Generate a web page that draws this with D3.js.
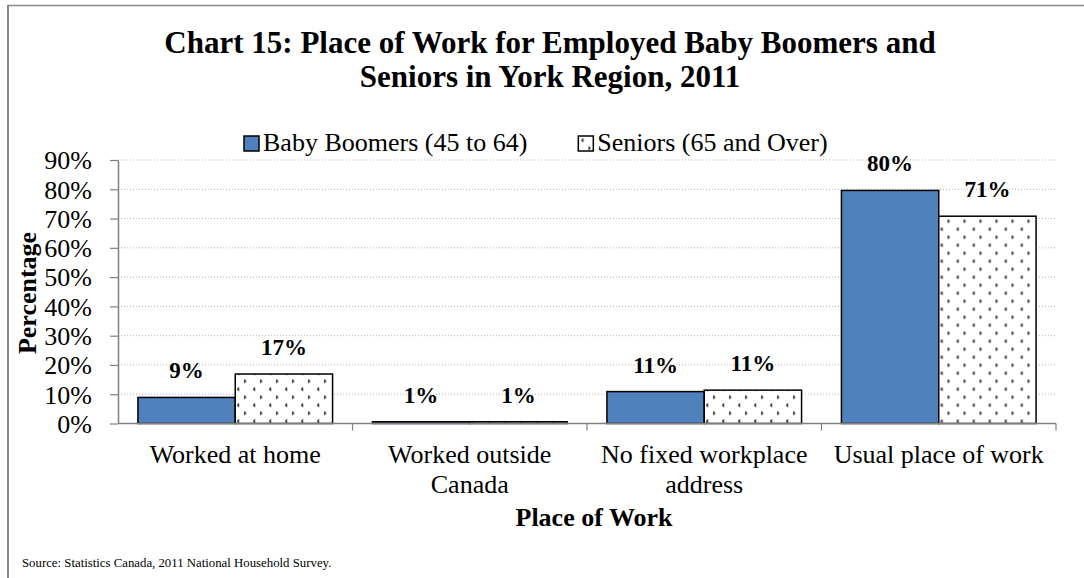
<!DOCTYPE html>
<html>
<head>
<meta charset="utf-8">
<script src="https://cdn.jsdelivr.net/npm/d3@7"></script>
<style>
  html, body { margin: 0; padding: 0; background: #fff; }
  svg { display: block; font-family: "Liberation Serif", "DejaVu Serif", serif; }
  svg text { font-family: "Liberation Serif", "DejaVu Serif", serif; }
</style>
</head>
<body>
<svg id="chart" width="1084" height="578"></svg>
<script>
// ---- data ----
const titleLines = ["Chart 15: Place of Work for Employed Baby Boomers and", "Seniors in York Region, 2011"];
const categories = ["Worked at home", "Worked outside Canada", "No fixed workplace address", "Usual place of work"];
const seriesNames = ["Baby Boomers (45 to 64)", "Seniors (65 and Over)"];
const boomers = [8.9, 0.6, 10.9, 79.6];
const seniors = [16.9, 0.6, 11.4, 70.8];
const yTicks = [0, 10, 20, 30, 40, 50, 60, 70, 80, 90];
const xTitle = "Place of Work";
const yTitle = "Percentage";
const sourceText = "Source: Statistics Canada, 2011 National Household Survey.";

const seriesValues = [boomers, seniors];

// ---- setup ----
const W = 1084, H = 578;
const svg = d3.select("#chart");
const m = { left: 118, right: 1056, top: 160, bottom: 423.5 };

// pattern for seniors
const defs = svg.append("defs");
const pat = defs.append("pattern")
  .attr("id", "dots").attr("patternUnits", "userSpaceOnUse")
  .attr("x", 0).attr("y", 0.5)
  .attr("width", 16).attr("height", 16);
pat.append("rect").attr("width", 16).attr("height", 16).attr("fill", "#fff");
// "<" mark
[[1,0],[0,1],[1,2]].forEach(p => pat.append("rect").attr("x", 3 + p[0]).attr("y", 3 + p[1]).attr("width", 1.3).attr("height", 1.3).attr("fill", "#000"));
// ">" mark
[[0,0],[1,1],[0,2]].forEach(p => pat.append("rect").attr("x", 10 + p[0]).attr("y", 11 + p[1]).attr("width", 1.3).attr("height", 1.3).attr("fill", "#000"));

const fills = ["#4F81BD", "url(#dots)"];

// border (top and left)
svg.append("line").attr("x1", 8).attr("x2", W).attr("y1", 5.5).attr("y2", 5.5).attr("stroke", "#888").attr("stroke-width", 1.5);
svg.append("line").attr("x1", 8).attr("x2", 8).attr("y1", 5).attr("y2", H).attr("stroke", "#888").attr("stroke-width", 2);

// title
svg.append("g").selectAll("text").data(titleLines).join("text")
  .attr("x", 550).attr("y", (d, i) => 53 + i * 34)
  .attr("text-anchor", "middle").attr("font-weight", "bold").attr("font-size", 31)
  .attr("fill", "#000").text(d => d);

// scales
const y = d3.scaleLinear().domain([0, 90]).range([m.bottom, m.top]);
const x0 = d3.scaleBand().domain(categories).range([m.left, m.right]).paddingInner(0.17).paddingOuter(0.085);
const x1 = d3.scaleBand().domain(seriesNames).range([0, x0.bandwidth()]);

// gridlines
svg.append("g").selectAll("line").data(yTicks.filter(t => t > 0)).join("line")
  .attr("x1", m.left).attr("x2", m.right)
  .attr("y1", d => y(d)).attr("y2", d => y(d))
  .attr("stroke", "#b3b3b3").attr("stroke-width", 1).attr("stroke-dasharray", "1,2");

// y axis
const yAxis = svg.append("g").attr("transform", `translate(${m.left},0)`)
  .call(d3.axisLeft(y).tickValues(yTicks).tickFormat(d => d + "%").tickSizeInner(8).tickSizeOuter(0).tickPadding(18));
yAxis.attr("font-family", null);
yAxis.select(".domain").attr("stroke", "#808080").attr("stroke-width", 1.5);
yAxis.selectAll(".tick line").attr("stroke", "#808080").attr("stroke-width", 1.2);
yAxis.selectAll(".tick text").attr("font-size", 26).attr("fill", "#000").attr("dy", "0.34em");

// bars
const groups = svg.append("g").selectAll("g").data(categories).join("g")
  .attr("transform", d => `translate(${x0(d)},0)`);
groups.selectAll("rect").data((c, ci) => seriesNames.map((s, si) => ({ s, si, v: seriesValues[si][ci] })))
  .join("rect")
  .attr("x", d => x1(d.s)).attr("width", x1.bandwidth())
  .attr("y", d => y(d.v)).attr("height", d => y(0) - y(d.v))
  .attr("fill", d => fills[d.si]).attr("stroke", "#000").attr("stroke-width", 1.5);

// value labels
groups.selectAll("text.val").data((c, ci) => seriesNames.map((s, si) => ({ s, si, v: seriesValues[si][ci] })))
  .join("text").attr("class", "val")
  .attr("x", d => x1(d.s) + x1.bandwidth() / 2).attr("y", d => y(d.v) - 19)
  .attr("text-anchor", "middle").attr("font-weight", "bold").attr("font-size", 23)
  .text(d => d3.format(".0f")(d.v) + "%");

// x axis
const xAxisG = svg.append("g");
xAxisG.append("line").attr("x1", m.left).attr("x2", m.right).attr("y1", y(0)).attr("y2", y(0))
  .attr("stroke", "#808080").attr("stroke-width", 1.5);
const bounds = categories.map(c => x0(c) - x0.step() * x0.paddingInner() / 2).concat([m.right]);
xAxisG.selectAll("line.tk").data(bounds.slice(1)).join("line").attr("class", "tk")
  .attr("x1", d => d).attr("x2", d => d).attr("y1", y(0)).attr("y2", y(0) + 7)
  .attr("stroke", "#808080").attr("stroke-width", 1.2);

// category labels with wrapping
function wrapLines(text, width, size) {
  const tmp = svg.append("text").attr("font-size", size);
  const words = text.split(" ");
  const lines = [];
  let cur = [];
  words.forEach(w => {
    const test = cur.concat([w]).join(" ");
    tmp.text(test);
    if (tmp.node().getComputedTextLength() > width && cur.length) {
      lines.push(cur.join(" "));
      cur = [w];
    } else cur.push(w);
  });
  if (cur.length) lines.push(cur.join(" "));
  tmp.remove();
  return lines;
}
categories.forEach(c => {
  const lines = wrapLines(c, 228, 26);
  const t = svg.append("text").attr("text-anchor", "middle").attr("font-size", 26).attr("fill", "#000");
  lines.forEach((l, i) => t.append("tspan").attr("x", x0(c) + x0.bandwidth() / 2).attr("y", 463 + i * 30).text(l));
});

// axis titles
svg.append("text").attr("x", 594).attr("y", 526)
  .attr("text-anchor", "middle").attr("font-weight", "bold").attr("font-size", 26).text(xTitle);
svg.append("text").attr("transform", "translate(36,293) rotate(-90)")
  .attr("text-anchor", "middle").attr("font-weight", "bold").attr("font-size", 26).text(yTitle);

// legend
const legend = svg.append("g").attr("transform", "translate(244,151)");
let lx = 0;
seriesNames.forEach((s, i) => {
  const g = legend.append("g").attr("transform", `translate(${lx},0)`);
  g.append("rect").attr("x", 0).attr("y", -15).attr("width", 15).attr("height", 15)
    .attr("fill", fills[i]).attr("stroke", "#000").attr("stroke-width", 1.5);
  const t = g.append("text").attr("x", 19).attr("y", 0).attr("font-size", 26).text(s);
  const w = t.node().getComputedTextLength();
  lx += 19 + w + 51;
});

// source
svg.append("text").attr("x", 22).attr("y", 567).attr("font-size", 12.8).attr("fill", "#000").text(sourceText);
</script>
</body>
</html>
